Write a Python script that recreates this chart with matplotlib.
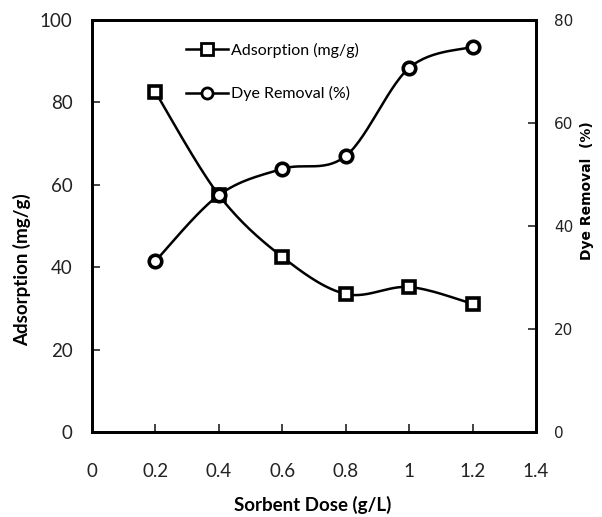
import numpy as np
import matplotlib
matplotlib.use("Agg")
import matplotlib.pyplot as plt
from matplotlib.lines import Line2D

plt.rcParams['font.family'] = ['Lato', 'DejaVu Sans']

# data
dose = [0.2, 0.4, 0.6, 0.8, 1.0, 1.2]
adsorption = [82.5, 57.5, 42.5, 33.5, 35.2, 31.1]   # mg/g, left axis
removal = [33.2, 46.0, 51.1, 53.6, 70.7, 74.8]      # %, right axis

x_ticks = [0, 0.2, 0.4, 0.6, 0.8, 1, 1.2, 1.4]
x_ticklabels = ['0', '0.2', '0.4', '0.6', '0.8', '1', '1.2', '1.4']
left_ticks = [0, 20, 40, 60, 80, 100]
right_ticks = [0, 20, 40, 60, 80]


def smooth(xs, ys, xspan, yspan, n=30):
    # excel-like smoothed line (cubic bezier, tension 1/6), in normalised units
    px = np.array(xs) / xspan
    py = np.array(ys) / yspan
    pts = np.column_stack([px, py])
    out = []
    for i in range(len(pts) - 1):
        p0 = pts[i - 1] if i > 0 else pts[i]
        p1 = pts[i]
        p2 = pts[i + 1]
        p3 = pts[i + 2] if i + 2 < len(pts) else pts[i + 1]
        c1 = p1 + (p2 - p0) / 6
        c2 = p2 - (p3 - p1) / 6
        t = np.linspace(0, 1, n)[:, None]
        seg = ((1 - t) ** 3) * p1 + 3 * ((1 - t) ** 2) * t * c1 + 3 * (1 - t) * t ** 2 * c2 + t ** 3 * p2
        out.append(seg if i == 0 else seg[1:])
    out = np.vstack(out)
    return out[:, 0] * xspan, out[:, 1] * yspan


fig = plt.figure(figsize=(6.02, 5.17), dpi=100)
ax = fig.add_axes([0.1528, 0.1644, 0.7376, 0.7969])
ax2 = ax.twinx()

mk = dict(markersize=9, markeredgewidth=2.6, markerfacecolor='white', markeredgecolor='black')

sx, sy = smooth(dose, adsorption, 1.4, 100)
ax.plot(sx, sy, color='black', lw=1.8, zorder=2)
ax.plot(dose, adsorption, ls='none', marker='s', zorder=3, **mk)

rx, ry = smooth(dose, removal, 1.4, 80)
ax2.plot(rx, ry, color='black', lw=1.8, zorder=2)
ax2.plot(dose, removal, ls='none', marker='o', zorder=3, **mk)

ax.set_xlim(0, 1.4)
ax.set_ylim(0, 100)
ax2.set_ylim(0, 80)
ax.set_xticks(x_ticks, labels=x_ticklabels)
ax.set_yticks(left_ticks)
ax2.set_yticks(right_ticks, labels=[str(v) for v in right_ticks], fontfamily='DejaVu Sans')

for a in (ax, ax2):
    for s in a.spines.values():
        s.set_linewidth(2)
ax.tick_params(axis='x', direction='in', length=6, width=1.2, pad=22, labelsize=13.5, colors='#222222')
ax.tick_params(axis='y', direction='in', length=6, width=1.2, pad=14, labelsize=13.5, colors='#222222')
ax2.tick_params(axis='y', direction='in', length=6, width=1.2, pad=13, labelsize=11, colors='#222222')

ax.set_xlabel('Sorbent Dose (g/L)', fontsize=13.5, fontweight='bold')
ax.xaxis.set_label_coords(0.498, -0.155)
ax.set_ylabel('Adsorption (mg/g)', fontsize=13.5, fontweight='bold')
ax.yaxis.set_label_coords(-0.137, 0.393)
ax2.set_ylabel('Dye Removal  (%)', fontsize=10, fontweight='bold', family='DejaVu Sans')
ax2.yaxis.set_label_coords(1.099, 0.585)

handles = [
    Line2D([], [], color='black', lw=1.8, marker='s', markersize=8, markeredgewidth=2,
           markerfacecolor='white', markeredgecolor='black'),
    Line2D([], [], color='black', lw=1.8, marker='o', markersize=8, markeredgewidth=2,
           markerfacecolor='white', markeredgecolor='black'),
]
ax2.legend(handles, ['Adsorption (mg/g)', 'Dye Removal (%)'], loc='upper left',
           bbox_to_anchor=(0.18, 0.98), frameon=False, fontsize=11.5,
           handlelength=2.6, handletextpad=0.2, labelspacing=1.8)

fig.savefig('out.png', dpi=100)
